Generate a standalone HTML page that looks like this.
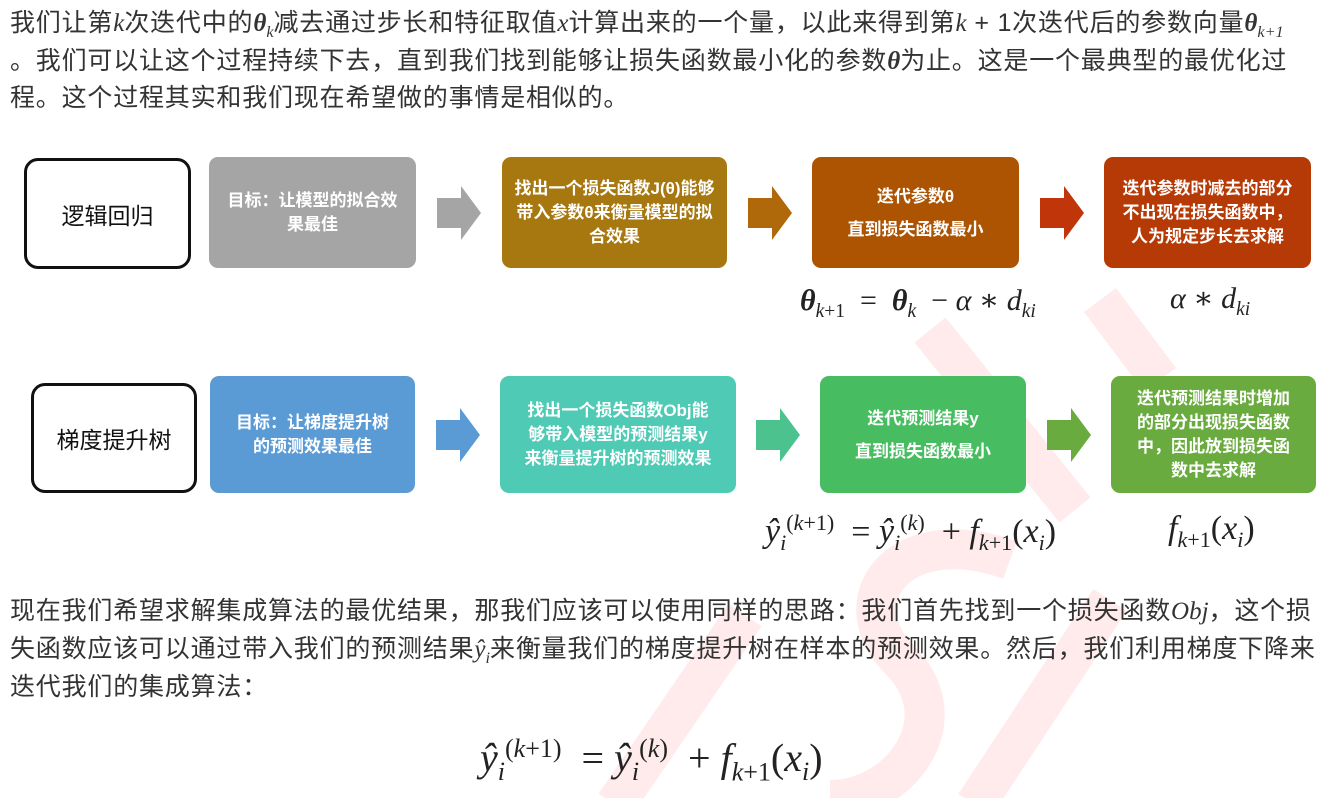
<!DOCTYPE html>
<html><head><meta charset="utf-8">
<style>
body{margin:0;width:1338px;height:798px;background:#fff;position:relative;overflow:hidden;font-family:"Liberation Sans","Noto Sans CJK SC",sans-serif;color:#333;}
.t{position:absolute;left:10px;font-size:25px;letter-spacing:0.8px;white-space:nowrap;line-height:30px;}
.m{font-family:"Liberation Serif","DejaVu Serif",serif;font-style:italic;letter-spacing:0;}
.b{position:absolute;border-radius:9px;color:#fff;font-weight:bold;font-size:17px;line-height:24px;display:flex;align-items:center;justify-content:center;text-align:center;white-space:nowrap;}
.w{position:absolute;background:#fff;border:3px solid #111;border-radius:14px;display:flex;align-items:center;justify-content:center;font-size:23px;color:#111;box-sizing:border-box;}
.f{position:absolute;font-family:"Liberation Serif","DejaVu Serif",serif;font-size:30px;white-space:nowrap;color:#222;}
sub,sup{font-size:65%;}
</style></head><body>
<svg style="position:absolute;left:0;top:0" width="1338" height="798">
<g stroke="#ff2020" stroke-opacity="0.09" stroke-width="40" fill="none" stroke-linecap="butt">
<line x1="615" y1="805" x2="745" y2="615"/>
<line x1="930" y1="330" x2="1075" y2="510"/>
<path d="M1010 560 C 900 520 840 600 900 660 C 960 720 900 800 830 800"/>
<line x1="975" y1="805" x2="1110" y2="600"/>
<line x1="1100" y1="300" x2="1160" y2="380"/>
</g>
</svg>
<div class="t" style="top:8px">我们让第<span class="m">k</span>次迭代中的<b class="m">θ</b><sub class="m">k</sub>减去通过步长和特征取值<span class="m">x</span>计算出来的一个量，以此来得到第<span class="m">k</span> + 1次迭代后的参数向量<b class="m">θ</b><sub class="m">k+1</sub></div>
<div class="t" style="top:46px">。我们可以让这个过程持续下去，直到我们找到能够让损失函数最小化的参数<b class="m">θ</b>为止。这是一个最典型的最优化过</div>
<div class="t" style="top:83px">程。这个过程其实和我们现在希望做的事情是相似的。</div>

<div class="w" style="left:24px;top:158px;width:167px;height:111px">逻辑回归</div>
<div class="b" style="left:209px;top:157px;width:207px;height:111px;background:#a5a5a5">目标：让模型的拟合效<br>果最佳</div>
<div class="b" style="left:502px;top:157px;width:225px;height:111px;background:#a7780f">找出一个损失函数J(θ)能够<br>带入参数θ来衡量模型的拟<br>合效果</div>
<div class="b" style="left:812px;top:157px;width:207px;height:111px;background:#ad5403;line-height:33px">迭代参数θ<br>直到损失函数最小</div>
<div class="b" style="left:1104px;top:157px;width:207px;height:111px;background:#b53a06">迭代参数时减去的部分<br>不出现在损失函数中，<br>人为规定步长去求解</div>

<div class="w" style="left:31px;top:383px;width:166px;height:110px">梯度提升树</div>
<div class="b" style="left:210px;top:376px;width:205px;height:117px;background:#5b9bd5">目标：让梯度提升树<br>的预测效果最佳</div>
<div class="b" style="left:500px;top:376px;width:236px;height:117px;background:#4ecab5">找出一个损失函数Obj能<br>够带入模型的预测结果y<br>来衡量提升树的预测效果</div>
<div class="b" style="left:820px;top:376px;width:206px;height:117px;background:#47bc60;line-height:33px">迭代预测结果y<br>直到损失函数最小</div>
<div class="b" style="left:1111px;top:376px;width:205px;height:117px;background:#6aab3f">迭代预测结果时增加<br>的部分出现损失函数<br>中，因此放到损失函<br>数中去求解</div>

<svg style="position:absolute;left:0;top:0" width="1338" height="798">
<g>
<polygon points="437,198 461,198 461,186 481,213 461,240 461,228 437,228" fill="#a5a5a5"/>
<polygon points="748,198 772,198 772,186 792,213 772,240 772,228 748,228" fill="#b0690a"/>
<polygon points="1040,198 1064,198 1064,186 1084,213 1064,240 1064,228 1040,228" fill="#c0360a"/>
<polygon points="436,420 460,420 460,408 480,435 460,462 460,450 436,450" fill="#5b9bd5"/>
<polygon points="756,420 780,420 780,408 800,435 780,462 780,450 756,450" fill="#4cc38e"/>
<polygon points="1047,420 1071,420 1071,408 1091,435 1071,462 1071,450 1047,450" fill="#6aab3f"/>
</g>
</svg>

<div class="f" style="left:800px;top:283px"><b><i>θ</i></b><sub><i>k</i>+1</sub> &nbsp;= &nbsp;<b><i>θ</i></b><sub><i>k</i></sub> &nbsp;− <i>α</i> ∗ <i>d</i><sub><i>ki</i></sub></div>
<div class="f" style="left:1170px;top:281px"><i>α</i> ∗ <i>d</i><sub><i>ki</i></sub></div>
<div class="f" style="left:765px;top:510px;font-size:34px"><i>ŷ<sub>i</sub></i><sup>(<i>k</i>+1)</sup> &nbsp;= <i>ŷ<sub>i</sub></i><sup>(<i>k</i>)</sup> &nbsp;+ <i>f</i><sub><i>k</i>+1</sub>(<i>x<sub>i</sub></i>)</div>
<div class="f" style="left:1168px;top:510px;font-size:34px"><i>f</i><sub><i>k</i>+1</sub>(<i>x<sub>i</sub></i>)</div>

<div class="t" style="top:596px">现在我们希望求解集成算法的最优结果，那我们应该可以使用同样的思路：我们首先找到一个损失函数<span class="m">Obj</span>，这个损</div>
<div class="t" style="top:634px">失函数应该可以通过带入我们的预测结果<span class="m">ŷ<sub>i</sub></span>来衡量我们的梯度提升树在样本的预测效果。然后，我们利用梯度下降来</div>
<div class="t" style="top:672px">迭代我们的集成算法：</div>
<div class="f" style="left:480px;top:734px;font-size:40px"><i>ŷ<sub>i</sub></i><sup>(<i>k</i>+1)</sup> &nbsp;= <i>ŷ<sub>i</sub></i><sup>(<i>k</i>)</sup> &nbsp;+ <i>f</i><sub><i>k</i>+1</sub>(<i>x<sub>i</sub></i>)</div>
</body></html>
